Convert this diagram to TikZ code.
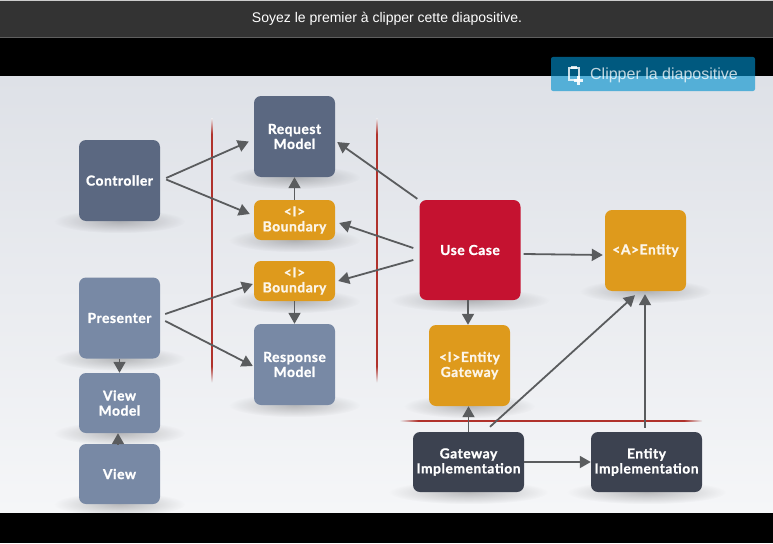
\documentclass[tikz,border=0pt]{standalone}
\usepackage{fontspec}
\setmainfont{Liberation Sans}
\newfontfamily\slidefont[LetterSpace=4,BoldFeatures={FakeBold=1.2}]{Lato}
\usepackage{xcolor}
\usepackage{tikz}
\usetikzlibrary{arrows.meta,backgrounds,fadings}
\definecolor{barbg}{RGB}{51,51,51}
\definecolor{barline}{RGB}{95,95,95}
\definecolor{slidetop}{RGB}{222,225,231}
\definecolor{slidemid}{RGB}{234,236,239}
\definecolor{slidebot}{RGB}{245,246,248}
\definecolor{slateblue}{RGB}{91,104,129}
\definecolor{paleblue}{RGB}{120,137,165}
\definecolor{amber}{RGB}{222,154,28}
\definecolor{usered}{RGB}{197,18,48}
\definecolor{darkslate}{RGB}{60,66,80}
\definecolor{sketchgray}{RGB}{90,92,94}
\definecolor{barrierred}{RGB}{176,50,44}
\definecolor{clipblue}{RGB}{0,145,206}
\tikzfading[name=softedge,inner color=transparent!0,outer color=transparent!100]
\pgfdeclareverticalshading{barshade}{100bp}{color(0bp)=(slidemid); color(25bp)=(slidemid);
  color(28bp)=(barrierred); color(72bp)=(barrierred); color(75bp)=(slidemid); color(100bp)=(slidemid)}
\tikzset{
  knode/.style={rounded corners=7pt,minimum width=81pt,minimum height=81pt,
    align=center,inner sep=0pt,text=white,fill=slateblue,
    font=\slidefont\bfseries\fontsize{13.8}{15}\selectfont},
  knodeb/.style={knode,fill=paleblue},
  knodea/.style={knode,fill=amber,text=white!90!amber},
  knoder/.style={knode,fill=usered,minimum width=101pt,minimum height=100pt},
  knoded/.style={knode,fill=darkslate,minimum width=111pt,minimum height=60pt},
  flow/.style={-{Triangle[length=11pt,width=12pt]},line width=1.8pt,draw=sketchgray},
  barrier/.style={shading=barshade},
  floorshadow/.style={fill=black,path fading=softedge,fit fading,opacity=.24}
}
\begin{document}
\begin{tikzpicture}[x=1pt,y=-1pt]
  \useasboundingbox (0,0) rectangle (773,543);

  % boxes
  \node[knode] (ctrl) at (119.5,180.5) {Controller};
  \node[knode] (reqm) at (294.5,136.5) {Request\\Model};
  \node[knodea,minimum height=40pt] (bnd1) at (294.5,220) {<I>\\Boundary};
  \node[knodea,minimum height=40pt] (bnd2) at (294.5,281) {<I>\\Boundary};
  \node[knodeb] (resp) at (294.5,364.5) {Response\\Model};
  \node[knodeb] (pres) at (119.5,318) {Presenter};
  \node[knodeb,minimum height=60pt] (vm) at (119.5,403) {View\\Model};
  \node[knodeb,minimum height=60pt] (view) at (119.5,474) {View};
  \node[knoder] (uc) at (470,250) {Use Case};
  \node[knodea] (ent) at (645.5,250.5) {<A>Entity};
  \node[knodea] (gate) at (469.5,365.5) {<I>Entity\\Gateway};
  \node[knoded] (gimp) at (468.5,462) {Gateway\\Implementation};
  \node[knoded] (eimp) at (646.5,462) {Entity\\Implementation};

  % window, slide, floor shadows
  \begin{scope}[on background layer]
    \fill[black] (0,0) rectangle (773,543);
    \fill[white!75!barbg] (0,0) rectangle (773,1);
    \fill[barbg] (0,1) rectangle (773,37);
    \fill[barline] (0,37) rectangle (773,38);
    \shade[top color=slidetop,bottom color=slidebot] (0,76) rectangle (773,512);
    \foreach \nm/\rx in {ctrl/66,reqm/66,bnd1/66,bnd2/66,resp/66,pres/66,vm/66,view/66,uc/80,ent/66,gate/66,gimp/80,eimp/80}
      \fill[floorshadow] (\nm.south) ellipse ({\rx} and 12);
  \end{scope}

  % barriers
  \coordinate (leftt) at (211.2,118);
  \coordinate (leftb) at (212.8,382);
  \coordinate (rightt) at (376.2,118);
  \coordinate (rightb) at (377.8,382);
  \coordinate (floorl) at (400,420.2);
  \coordinate (floorr) at (702,421.8);
  \shade[barrier] (leftt) rectangle (leftb);
  \shade[barrier] (rightt) rectangle (rightb);
  \shade[barrier,shading angle=90] (floorl) rectangle (floorr);

  % arrows
  \draw[flow] ([shift={(6,-2.5)}]ctrl.east) -- ([shift={(-5,5)}]reqm.west);
  \draw[flow] ([shift={(6,-1)}]ctrl.east) -- ([shift={(-4,-6)}]bnd1.west);
  \draw[flow] (bnd1.north) -- (reqm.south);
  \draw[flow] ([shift={(-2,-1)}]uc.north west) -- ([shift={(2,5.5)}]reqm.east);
  \draw[flow] ([shift={(-6,-2)}]uc.west) -- ([shift={(4,3)}]bnd1.east);
  \draw[flow] ([shift={(-6,10)}]uc.west) -- ([shift={(3,0)}]bnd2.east);
  \draw[flow] ([shift={(5,-4)}]pres.east) -- ([shift={(-1,3)}]bnd2.west);
  \draw[flow] ([shift={(5,3)}]pres.east) -- ([shift={(-1,1.5)}]resp.west);
  \draw[flow] (bnd2.south) -- (resp.north);
  \draw[flow] (pres.south) -- (vm.north);
  \draw[flow] ([shift={(-1.5,0)}]view.north) -- ([shift={(-1.5,0)}]vm.south);
  \draw[flow] ([shift={(3,4)}]uc.east) -- ([shift={(-2,4.5)}]ent.west);
  \draw[flow] ([shift={(-2,0)}]uc.south) -- ([shift={(-1.5,0)}]gate.north);
  \draw[flow] (gimp.north) -- ([shift={(-1,0)}]gate.south);
  \draw[flow] ([shift={(21.5,-5)}]gimp.north) -- ([shift={(-10.5,4)}]ent.south);
  \draw[flow] ([shift={(-1.5,-4)}]eimp.north) -- ([shift={(-0.5,3)}]ent.south);
  \draw[flow] (gimp.east) -- (eimp.west);

  % top bar and clip button
  \node[text=white,font=\fontsize{14}{16}\selectfont] (soyez) at (387,18.5) {Soyez le premier à clipper cette diapositive.};
  \node[fill=clipblue,fill opacity=.62,text opacity=.75,text=white,rounded corners=2pt,
    minimum width=204pt,minimum height=34pt,inner sep=0pt,text depth=0pt,
    font=\fontsize{16}{18}\selectfont] (clip) at (653,74) {\hspace{22pt}Clipper la diapositive};
  \draw[white,opacity=.8,line width=1.8pt] (569,68) rectangle (579,80);
  \fill[white,opacity=.8] (571,65.5) rectangle (577,69);
  \fill[white,opacity=.9] (574,79) rectangle (583,81.5);
  \fill[white,opacity=.9] (577.3,76) rectangle (579.8,84.5);
\end{tikzpicture}
\end{document}
